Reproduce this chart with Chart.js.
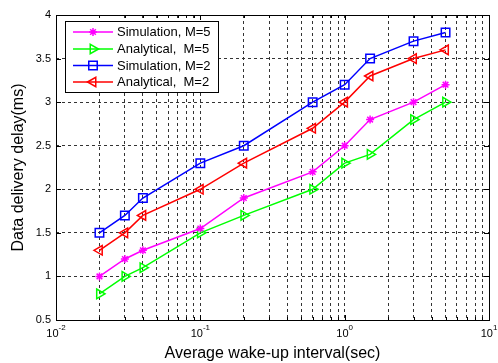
<!DOCTYPE html>
<html>
<head>
<meta charset="utf-8">
<script src="https://cdn.jsdelivr.net/npm/chart.js@4.4.1/dist/chart.umd.min.js"></script>
<style>
  html, body { margin: 0; padding: 0; background: #fff; }
  #wrap { width: 498px; height: 363px; }
</style>
</head>
<body>
<div id="wrap"><canvas id="delayChart" width="498" height="363"></canvas></div>
<script>
/* data */
const wakeInterval = [0.02, 0.03, 0.04, 0.1, 0.2, 0.6, 1, 1.5, 3, 5];
const simM5 = [1.0, 1.2, 1.3, 1.55, 1.9, 2.2, 2.5, 2.8, 3.0, 3.2];
const anaM5 = [0.8, 1.0, 1.1, 1.5, 1.7, 2.0, 2.3, 2.4, 2.8, 3.0];
const simM2 = [1.5, 1.7, 1.9, 2.3, 2.5, 3.0, 3.2, 3.5, 3.7, 3.8];
const anaM2 = [1.3, 1.5, 1.7, 2.0, 2.3, 2.7, 3.0, 3.3, 3.5, 3.6];

const xDecades = [0.01, 0.1, 1, 10];
const xExponents = ["-2", "-1", "0", "1"];
const yMin = 0.5, yMax = 4, yStep = 0.5;

const FONT = "Arial, 'Liberation Sans', Helvetica, sans-serif";

const pts = ys => wakeInterval.map((x, i) => ({ x, y: ys[i] }));

function series(label, ys, color, pointStyle, rotation, radius) {
  return {
    label,
    data: pts(ys),
    borderColor: color,
    backgroundColor: color,
    borderWidth: 1.5,
    pointStyle,
    rotation,
    pointRadius: radius,
    pointBorderWidth: 1.5,
    pointBorderColor: color,
    pointBackgroundColor: "rgba(0,0,0,0)",
    tension: 0
  };
}

/* log ticks 1..9 per decade */
function logTicks() {
  const out = [];
  for (let e = -2; e <= 0; e++) {
    for (let s = 1; s <= 9; s++) out.push({ value: +(s * Math.pow(10, e)).toPrecision(3) });
  }
  out.push({ value: 10 });
  return out;
}

/* frame, inward ticks, x labels with exponents, legend box */
const matlabAxes = {
  id: "matlabAxes",
  afterDraw(chart) {
    const { ctx, chartArea: a, scales } = chart;
    const xs = scales.x, ys = scales.y;
    ctx.save();

    // tick marks
    ctx.strokeStyle = "#000";
    ctx.lineWidth = 1;
    ctx.beginPath();
    xs.ticks.forEach(t => {
      const px = Math.round(xs.getPixelForValue(t.value)) + 0.5;
      const isMajor = xDecades.includes(t.value);
      const len = isMajor ? 5 : 3;
      ctx.moveTo(px, a.bottom); ctx.lineTo(px, a.bottom - len);
      ctx.moveTo(px, a.top); ctx.lineTo(px, a.top + len);
    });
    for (let v = yMin; v <= yMax + 1e-9; v += yStep) {
      const py = Math.round(ys.getPixelForValue(v)) + 0.5;
      ctx.moveTo(a.left, py); ctx.lineTo(a.left + 5, py);
      ctx.moveTo(a.right, py); ctx.lineTo(a.right - 5, py);
    }
    ctx.stroke();

    // box
    ctx.strokeRect(Math.round(a.left) + 0.5, Math.round(a.top) + 0.5,
      Math.round(a.right - a.left), Math.round(a.bottom - a.top));

    // x tick labels: 10 with superscript exponent
    ctx.fillStyle = "#000";
    ctx.textBaseline = "alphabetic";
    xDecades.forEach((v, i) => {
      const px = xs.getPixelForValue(v);
      ctx.font = "11px " + FONT;
      const wb = ctx.measureText("10").width;
      ctx.font = "8px " + FONT;
      const we = ctx.measureText(xExponents[i]).width;
      const x0 = px - (wb + we) / 2;
      ctx.font = "11px " + FONT;
      ctx.textAlign = "left";
      ctx.fillText("10", x0, a.bottom + 17);
      ctx.font = "8px " + FONT;
      ctx.fillText(xExponents[i], x0 + wb, a.bottom + 10);
    });

    // legend
    const lx = 65, ly = 21, lw = 153, lh = 71;
    ctx.fillStyle = "#fff";
    ctx.fillRect(lx, ly, lw, lh);
    ctx.strokeStyle = "#000";
    ctx.strokeRect(lx + 0.5, ly + 0.5, lw, lh);
    const rows = [32, 49, 65.5, 82];
    ctx.font = "13px " + FONT;
    ctx.textBaseline = "middle";
    chart.data.datasets.forEach((ds, i) => {
      const y = rows[i];
      ctx.strokeStyle = ds.borderColor;
      ctx.lineWidth = ds.borderWidth;
      ctx.beginPath();
      ctx.moveTo(73, y); ctx.lineTo(113, y);
      ctx.stroke();
      ctx.fillStyle = "rgba(0,0,0,0)";
      ctx.lineWidth = ds.pointBorderWidth;
      Chart.helpers.drawPoint(ctx, {
        pointStyle: ds.pointStyle,
        rotation: ds.rotation,
        radius: ds.pointRadius,
        borderWidth: ds.pointBorderWidth
      }, 93, y);
      ctx.fillStyle = "#000";
      ctx.fillText(ds.label, 117, y + 0.5);
    });
    ctx.restore();
  }
};

new Chart(document.getElementById("delayChart"), {
  type: "line",
  data: {
    datasets: [
      series("Simulation, M=5", simM5, "#ff00ff", "star", 0, 4),
      series("Analytical,  M=5", anaM5, "#00ff00", "triangle", 90, 5.5),
      series("Simulation, M=2", simM2, "#0000ff", "rect", 0, 6),
      series("Analytical,  M=2", anaM2, "#ff0000", "triangle", -90, 5.5)
    ]
  },
  options: {
    responsive: false,
    animation: false,
    devicePixelRatio: 1,
    layout: { padding: { top: 15, right: 9, left: 0, bottom: 0 } },
    plugins: { legend: { display: false }, tooltip: { enabled: false } },
    scales: {
      x: {
        type: "logarithmic",
        min: 0.01,
        max: 10,
        afterBuildTicks: s => { s.ticks = logTicks(); },
        afterFit: s => { s.height = 43; },
        ticks: { display: false },
        grid: { color: "#333", lineWidth: 1, drawTicks: false },
        border: { display: false, dash: [3, 3] },
        title: {
          display: true,
          text: "Average wake-up interval(sec)",
          color: "#000",
          font: { family: FONT, size: 16 },
          padding: { top: 0, bottom: 0 }
        }
      },
      y: {
        min: yMin,
        max: yMax,
        afterFit: s => { s.width = 56; },
        ticks: {
          stepSize: yStep,
          color: "#000",
          padding: 5,
          font: { family: FONT, size: 11 },
          callback: v => String(v)
        },
        grid: { color: "#333", lineWidth: 1, drawTicks: false },
        border: { display: false, dash: [3, 3] },
        title: {
          display: true,
          text: "Data delivery delay(ms)",
          color: "#000",
          font: { family: FONT, size: 16 },
          padding: { top: 9, bottom: 0 }
        }
      }
    }
  },
  plugins: [matlabAxes]
});
</script>
</body>
</html>
